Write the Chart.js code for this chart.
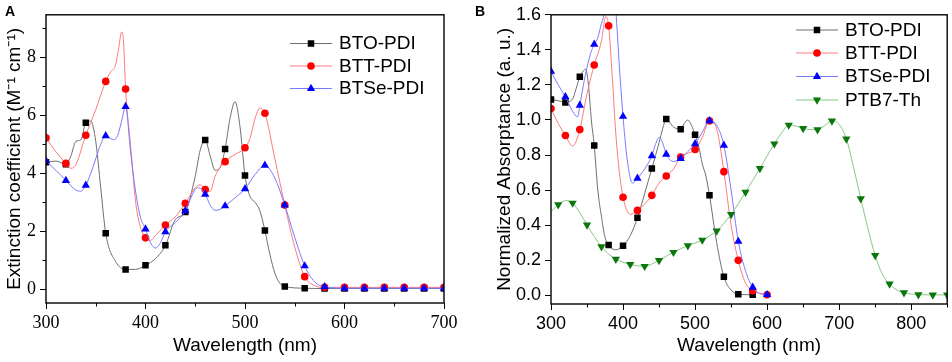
<!DOCTYPE html>
<html>
<head>
<meta charset="utf-8">
<script src="https://cdn.jsdelivr.net/npm/chart.js@4.4.0/dist/chart.umd.min.js"></script>
<style>
    html, body { margin: 0; padding: 0; background: #fff; }
    #wrap { position: relative; width: 952px; height: 362px; overflow: hidden; }
    .panel { position: absolute; top: 0; width: 476px; height: 362px; }
    #panel-a { left: 0; }
    #panel-b { left: 476px; }
    .letter { position: absolute; top: 3px; font: bold 14px "Liberation Sans", Arial, sans-serif; color: #000; }
</style>
</head>
<body>
<div id="wrap">
    <div class="panel" id="panel-a"><canvas id="chartA" width="476" height="362"></canvas></div>
    <div class="panel" id="panel-b"><canvas id="chartB" width="476" height="362"></canvas></div>
    <div class="letter" style="left:5px">A</div>
    <div class="letter" style="left:475px">B</div>
</div>
<script>
// Данные панели A: коэффициент экстинкции
const btoA_wl  = [300, 310, 320, 325, 330, 335, 340, 345, 350, 355, 360, 370, 380, 390, 400, 410, 420, 430, 440, 450, 455, 460, 465, 470, 475, 480, 485, 490, 495, 500, 505, 510, 515, 520, 525, 530, 535, 540, 560, 580, 600, 620, 640, 660, 680, 700];
const btoA_val = [4.38, 4.42, 4.31, 4.6, 5.1, 5.15, 5.74, 5.8, 5.1, 3.5, 1.93, 0.95, 0.68, 0.68, 0.82, 1.05, 1.51, 2.4, 2.66, 3.9, 4.8, 5.15, 4.6, 4.1, 4.2, 4.84, 5.9, 6.47, 5.6, 3.92, 3.2, 3.0, 2.7, 2.02, 1.2, 0.55, 0.2, 0.09, 0.03, 0.02, 0.02, 0.02, 0.02, 0.02, 0.02, 0.02];

const bttA_wl  = [300, 310, 320, 325, 330, 340, 350, 360, 365, 370, 373, 376, 378, 380, 385, 390, 395, 400, 405, 410, 420, 430, 440, 450, 455, 460, 465, 470, 480, 490, 500, 505, 510, 515, 520, 530, 540, 550, 560, 570, 580, 600, 620, 640, 660, 680, 700];
const bttA_val = [5.22, 4.74, 4.34, 4.17, 4.3, 5.31, 6.2, 7.17, 7.5, 7.75, 8.3, 8.88, 8.5, 6.91, 4.97, 3.03, 2.13, 1.77, 1.68, 1.85, 2.21, 2.5, 2.96, 3.5, 3.6, 3.44, 3.38, 3.9, 4.4, 4.65, 4.88, 5.2, 5.88, 6.25, 6.07, 4.5, 2.9, 1.45, 0.43, 0.12, 0.06, 0.06, 0.06, 0.06, 0.06, 0.06, 0.06];

const btseA_wl  = [300, 310, 320, 330, 335, 340, 345, 350, 355, 360, 365, 368, 372, 376, 380, 385, 390, 395, 400, 405, 410, 415, 420, 430, 440, 445, 450, 453, 460, 465, 470, 475, 480, 490, 500, 510, 520, 530, 540, 550, 560, 570, 580, 600, 620, 640, 660, 680, 700];
const btseA_val = [4.43, 4.1, 3.75, 3.42, 3.38, 3.58, 4.0, 4.5, 5.0, 5.29, 5.2, 5.16, 5.3, 5.8, 6.3, 4.74, 3.38, 2.47, 2.07, 1.6, 1.42, 1.6, 1.98, 2.3, 2.7, 3.1, 3.45, 3.5, 3.27, 2.9, 2.72, 2.75, 2.87, 3.15, 3.46, 3.95, 4.27, 3.83, 2.9, 1.79, 0.8, 0.25, 0.08, 0.03, 0.03, 0.03, 0.03, 0.03, 0.03];

// Данные панели B: нормированное поглощение
const btoB_wl  = [300, 310, 320, 330, 335, 340, 345, 348, 352, 356, 360, 365, 370, 375, 380, 390, 400, 410, 420, 430, 440, 450, 455, 460, 470, 480, 485, 490, 495, 500, 505, 510, 515, 520, 530, 540, 550, 560, 580];
const btoB_val = [1.117, 1.11, 1.1, 1.12, 1.18, 1.246, 1.28, 1.29, 1.2, 1.0, 0.855, 0.6, 0.45, 0.33, 0.287, 0.259, 0.283, 0.34, 0.442, 0.58, 0.723, 0.87, 0.95, 1.005, 0.96, 0.947, 0.98, 1.0, 0.97, 0.915, 0.85, 0.75, 0.68, 0.57, 0.3, 0.105, 0.03, 0.005, 0.003];

const bttB_wl  = [300, 310, 320, 330, 340, 350, 360, 370, 376, 380, 385, 390, 395, 400, 410, 420, 430, 440, 450, 460, 470, 480, 490, 500, 510, 520, 530, 540, 550, 560, 570, 580, 590, 600];
const bttB_val = [1.065, 0.98, 0.911, 0.851, 0.945, 1.15, 1.314, 1.45, 1.59, 1.537, 1.25, 0.92, 0.7, 0.559, 0.461, 0.484, 0.52, 0.57, 0.64, 0.68, 0.72, 0.789, 0.81, 0.832, 0.9, 0.995, 0.95, 0.705, 0.4, 0.199, 0.07, 0.026, 0.01, 0.003];

const btseB_wl  = [300, 310, 320, 330, 337, 340, 345, 350, 355, 360, 365, 370, 375, 380, 385, 390, 395, 400, 405, 410, 413, 420, 430, 440, 445, 450, 455, 460, 470, 480, 490, 500, 510, 520, 530, 540, 550, 560, 570, 580, 590, 600];
const btseB_val = [1.277, 1.2, 1.132, 1.05, 1.018, 1.083, 1.2, 1.3, 1.38, 1.432, 1.47, 1.55, 1.62, 1.72, 1.75, 1.62, 1.3, 1.02, 0.8, 0.67, 0.64, 0.667, 0.72, 0.795, 0.86, 0.9, 0.87, 0.804, 0.763, 0.78, 0.82, 0.864, 0.93, 0.995, 0.97, 0.855, 0.6, 0.307, 0.14, 0.045, 0.01, 0.003];

const ptbB_wl  = [300, 310, 320, 330, 340, 350, 360, 370, 380, 390, 400, 410, 420, 430, 440, 450, 460, 470, 480, 490, 500, 510, 520, 530, 540, 550, 560, 570, 580, 590, 600, 610, 620, 630, 640, 650, 660, 670, 680, 690, 700, 710, 720, 730, 740, 750, 760, 770, 780, 790, 800, 810, 830, 850];
const ptbB_val = [0.476, 0.517, 0.54, 0.526, 0.47, 0.401, 0.335, 0.277, 0.235, 0.206, 0.188, 0.176, 0.168, 0.165, 0.178, 0.199, 0.222, 0.245, 0.265, 0.283, 0.298, 0.315, 0.338, 0.367, 0.41, 0.461, 0.522, 0.588, 0.655, 0.723, 0.795, 0.864, 0.925, 0.971, 0.965, 0.952, 0.945, 0.945, 0.968, 0.995, 0.975, 0.892, 0.73, 0.551, 0.38, 0.227, 0.12, 0.064, 0.03, 0.015, 0.007, 0.003, 0.002, 0.002];

const seriesNamesA = ['BTO-PDI', 'BTT-PDI', 'BTSe-PDI'];
const seriesNamesB = ['BTO-PDI', 'BTT-PDI', 'BTSe-PDI', 'PTB7-Th'];

let extinctionChart = null;
let absorptanceChart = null;

const SANS = '"Liberation Sans", Arial, Helvetica, sans-serif';
const SERIF = '"Liberation Serif", "Times New Roman", serif';

// Стиль каждой серии: цвет линии, маркер
const seriesStyles = {
    'BTO-PDI':  { line: '#6f6f6f', marker: '#000000', pointStyle: 'rect',     radius: 4.6, rotation: 0 },
    'BTT-PDI':  { line: '#ff7a7a', marker: '#ff0000', pointStyle: 'circle',   radius: 3.8, rotation: 0 },
    'BTSe-PDI': { line: '#7a7aff', marker: '#0000ff', pointStyle: 'triangle', radius: 4.8, rotation: 0 },
    'PTB7-Th':  { line: '#86c886', marker: '#0b760b', pointStyle: 'triangle', radius: 4.8, rotation: 180 }
};

function buildSeries(xs, ys) {
    return xs.map((x, i) => ({ x: x, y: ys[i] }));
}

/**
 * Датасет: плотная линия, маркеры только каждые 20 нм начиная с firstMarker
 */
function makeDataset(name, xs, ys, firstMarker, order) {
    const st = seriesStyles[name];
    return {
        label: name,
        data: buildSeries(xs, ys),
        borderColor: st.line,
        borderWidth: 1,
        cubicInterpolationMode: 'monotone',
        pointStyle: st.pointStyle,
        pointRotation: st.rotation,
        pointRadius: ctx => (ctx.raw && (ctx.raw.x - firstMarker) % 20 === 0 && ctx.raw.x >= firstMarker) ? st.radius : 0,
        pointBackgroundColor: st.marker,
        pointBorderColor: st.marker,
        pointBorderWidth: 0,
        pointHoverRadius: 0,
        order: order
    };
}

// Рамка вокруг области графика + малые засечки
const framePlugin = {
    id: 'frame',
    afterDraw(chart) {
        const ctx = chart.ctx;
        const a = chart.chartArea;
        ctx.save();
        ctx.strokeStyle = '#000';
        ctx.lineWidth = 1;
        // малые засечки для подписей, возвращённых пустыми
        chart.scales.x.ticks.forEach(t => {
            if (t.label !== '') return;
            const px = Math.round(chart.scales.x.getPixelForValue(t.value)) + 0.5;
            ctx.beginPath();
            ctx.moveTo(px, a.bottom);
            ctx.lineTo(px, a.bottom + 3.5);
            ctx.stroke();
        });
        chart.scales.y.ticks.forEach(t => {
            if (t.label !== '') return;
            const py = Math.round(chart.scales.y.getPixelForValue(t.value)) + 0.5;
            ctx.beginPath();
            ctx.moveTo(a.left, py);
            ctx.lineTo(a.left - 3.5, py);
            ctx.stroke();
        });
        ctx.lineWidth = 1.4;
        ctx.strokeRect(a.left, a.top, a.right - a.left, a.bottom - a.top);
        ctx.restore();
    }
};

// Своя легенда: отрезок линии + маркер + подпись
function makeLegendPlugin(names, lineX0, lineX1, textX, rowYs) {
    return {
        id: 'customLegend',
        afterDraw(chart) {
            const ctx = chart.ctx;
            ctx.save();
            ctx.font = '19px ' + SANS;
            ctx.textBaseline = 'middle';
            ctx.textAlign = 'left';
            names.forEach((name, i) => {
                const st = seriesStyles[name];
                const y = rowYs[i];
                ctx.strokeStyle = st.line;
                ctx.lineWidth = 1;
                ctx.beginPath();
                ctx.moveTo(lineX0, y + 0.5);
                ctx.lineTo(lineX1, y + 0.5);
                ctx.stroke();
                ctx.fillStyle = st.marker;
                ctx.strokeStyle = st.marker;
                Chart.helpers.drawPoint(ctx, {
                    pointStyle: st.pointStyle,
                    rotation: st.rotation,
                    radius: st.radius,
                    borderWidth: 0
                }, (lineX0 + lineX1) / 2, y + 0.5);
                ctx.fillStyle = '#000';
                ctx.fillText(name, textX, y + 1);
            });
            ctx.restore();
        }
    };
}

function tickGrid() {
    return {
        drawOnChartArea: false,
        tickLength: 6,
        tickWidth: 1,
        tickColor: ctx => (ctx.tick && ctx.tick.label !== '') ? '#000' : 'rgba(0,0,0,0)'
    };
}

/**
 * 1. Панель A
 */
function renderExtinctionChart() {
    const ctx = document.getElementById('chartA').getContext('2d');
    if (extinctionChart) extinctionChart.destroy();

    extinctionChart = new Chart(ctx, {
        type: 'line',
        data: {
            datasets: [
                makeDataset('BTO-PDI', btoA_wl, btoA_val, 300, 2),
                makeDataset('BTT-PDI', bttA_wl, bttA_val, 300, 1),
                makeDataset('BTSe-PDI', btseA_wl, btseA_val, 300, 0)
            ]
        },
        options: {
            responsive: false,
            animation: false,
            layout: { padding: { left: 0, top: 11, right: 32, bottom: 0 } },
            plugins: { legend: { display: false }, tooltip: { enabled: false } },
            scales: {
                x: {
                    type: 'linear', min: 300, max: 700,
                    ticks: {
                        stepSize: 50, autoSkip: false, maxRotation: 0, padding: 3,
                        color: '#000', font: { family: SERIF, size: 18 },
                        callback: v => (v % 100 === 0 ? String(v) : '')
                    },
                    grid: tickGrid(),
                    border: { display: false },
                    title: { display: true, text: 'Wavelength (nm)', color: '#000', font: { family: SANS, size: 19 }, padding: { top: 0, bottom: 5 } },
                    afterFit: s => { s.height = 59; }
                },
                y: {
                    min: -0.48, max: 9.47,
                    ticks: {
                        stepSize: 1, includeBounds: false, padding: 4,
                        color: '#000', font: { family: SERIF, size: 18 },
                        callback: v => (v % 2 === 0 ? String(v) : '')
                    },
                    grid: tickGrid(),
                    border: { display: false },
                    title: { display: true, text: 'Extinction coefficient (M\u207B\u00B9 cm\u207B\u00B9)', color: '#000', font: { family: SANS, size: 19 }, padding: { top: 3, bottom: 0 } },
                    afterFit: s => { s.width = 46; }
                }
            }
        },
        plugins: [framePlugin, makeLegendPlugin(seriesNamesA, 290, 332, 339, [43, 65.5, 88])]
    });
}

/**
 * 2. Панель B
 */
function renderAbsorptanceChart() {
    const ctx = document.getElementById('chartB').getContext('2d');
    if (absorptanceChart) absorptanceChart.destroy();

    absorptanceChart = new Chart(ctx, {
        type: 'line',
        data: {
            datasets: [
                makeDataset('BTO-PDI', btoB_wl, btoB_val, 300, 3),
                makeDataset('BTT-PDI', bttB_wl, bttB_val, 300, 2),
                makeDataset('BTSe-PDI', btseB_wl, btseB_val, 300, 1),
                makeDataset('PTB7-Th', ptbB_wl, ptbB_val, 310, 0)
            ]
        },
        options: {
            responsive: false,
            animation: false,
            layout: { padding: { left: 0, top: 11, right: 4, bottom: 0 } },
            plugins: { legend: { display: false }, tooltip: { enabled: false } },
            scales: {
                x: {
                    type: 'linear', min: 300, max: 850,
                    ticks: {
                        stepSize: 50, autoSkip: false, maxRotation: 0, padding: 3,
                        color: '#000', font: { family: SANS, size: 18 },
                        callback: v => (v % 100 === 0 ? String(v) : '')
                    },
                    grid: tickGrid(),
                    border: { display: false },
                    title: { display: true, text: 'Wavelength (nm)', color: '#000', font: { family: SANS, size: 19 }, padding: { top: 0, bottom: 5 } },
                    afterFit: s => { s.height = 58; }
                },
                y: {
                    min: -0.05, max: 1.6,
                    ticks: {
                        stepSize: 0.1, includeBounds: false, padding: 4,
                        color: '#000', font: { family: SANS, size: 18 },
                        callback: v => (Math.round(v * 10) % 2 === 0 ? v.toFixed(1) : '')
                    },
                    grid: tickGrid(),
                    border: { display: false },
                    title: { display: true, text: 'Normalized Absorptance (a. u.)', color: '#000', font: { family: SANS, size: 19 }, padding: { top: 17, bottom: 0 } },
                    afterFit: s => { s.width = 75; }
                }
            }
        },
        plugins: [framePlugin, makeLegendPlugin(seriesNamesB, 320, 362, 369, [29.5, 52.5, 76, 99.5])]
    });
}

renderExtinctionChart();
renderAbsorptanceChart();
</script>
</body>
</html>
